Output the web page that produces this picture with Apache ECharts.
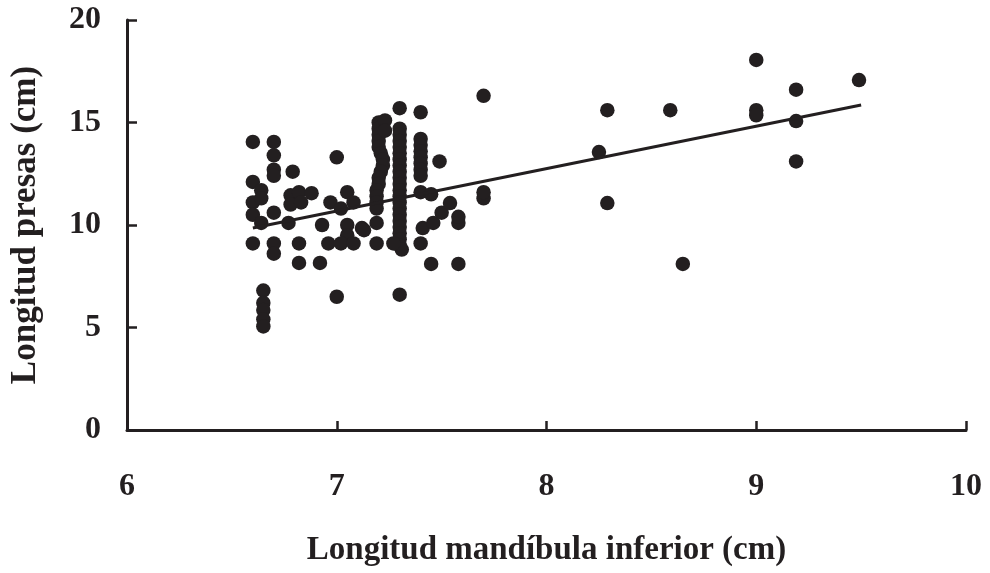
<!DOCTYPE html>
<html>
<head>
<meta charset="utf-8">
<script src="https://cdn.jsdelivr.net/npm/echarts@6/dist/echarts.min.js"></script>
<style>
  html, body { margin: 0; padding: 0; background: #fff; }
  #chart { width: 990px; height: 573px; }
</style>
</head>
<body>
<div id="chart"></div>
<script>
// puntos: longitud mandíbula inferior (cm) vs longitud presas (cm)
const pointsX = [
  6.6, 6.6, 6.6, 6.6, 6.6,
  6.64, 6.64, 6.64, 6.65, 6.65, 6.65, 6.65, 6.65,
  6.7, 6.7, 6.7, 6.7, 6.7, 6.7, 6.7,
  6.79, 6.78, 6.82, 6.88, 6.78, 6.83, 6.77, 6.82, 6.82, 6.92, 6.93,
  7.0, 7.0, 6.97, 7.05, 7.02, 7.08, 7.05, 7.12, 7.05, 6.96, 7.02, 7.08,
  7.2, 7.2, 7.2, 7.2, 7.2, 7.21, 7.22, 7.22, 7.21, 7.2, 7.2, 7.19, 7.19, 7.19, 7.19, 7.23, 7.23, 7.19, 7.19, 7.13,
  7.3, 7.3, 7.3, 7.3, 7.3, 7.3, 7.3, 7.3, 7.3, 7.3, 7.3, 7.3, 7.3, 7.3, 7.3, 7.3, 7.3, 7.3, 7.3, 7.3, 7.3, 7.31, 7.27, 7.3,
  7.4, 7.4, 7.4, 7.4, 7.4, 7.4, 7.4, 7.4, 7.4, 7.45, 7.41, 7.4, 7.46, 7.45, 7.49, 7.5, 7.54, 7.58, 7.58, 7.58,
  7.7, 7.7, 7.7,
  8.25, 8.29, 8.29, 8.59, 8.65, 9.0, 9.0, 9.0, 9.19, 9.19, 9.19, 9.49
];
const pointsY = [
  14.05, 12.1, 11.1, 10.5, 9.1,
  11.7, 11.3, 10.1, 6.8, 6.2, 5.85, 5.4, 5.05,
  14.05, 13.4, 12.7, 12.4, 10.6, 9.1, 8.6,
  12.6, 11.45, 11.6, 11.55, 11.0, 11.1, 10.1, 9.1, 8.15, 8.15, 10.0,
  13.3, 6.5, 11.1, 11.6, 10.8, 11.1, 10.0, 9.85, 9.5, 9.1, 9.1, 9.1,
  15.0, 14.7, 14.4, 14.1, 13.8, 13.5, 13.2, 12.9, 12.6, 12.3, 12.0, 11.7, 11.4, 11.1, 10.8, 15.1, 14.6, 10.1, 9.1, 9.75,
  14.7, 14.4, 14.1, 13.8, 13.5, 13.2, 12.9, 12.6, 12.3, 12.0, 11.7, 11.4, 11.1, 10.8, 10.5, 10.2, 9.9, 9.6, 9.3, 9.0, 15.7, 8.8, 9.1, 6.6,
  15.5, 14.2, 13.9, 13.6, 13.3, 13.0, 12.7, 12.4, 11.6, 11.5, 9.85, 9.1, 10.1, 8.1, 13.1, 10.6, 11.07, 10.1, 10.4, 8.1,
  16.3, 11.3, 11.6,
  13.56, 15.6, 11.07, 15.6, 8.1, 18.05, 15.6, 15.35, 16.6, 15.07, 13.1, 17.07
];
// recta de regresión (extremos)
const trendX = [6.6, 9.5];
const trendY = [9.85, 15.85];

const xTicks = [6, 7, 8, 9, 10];
const yTicks = [0, 5, 10, 15, 20];

const ink = '#231f20';
const font = '"Liberation Serif", "Times New Roman", serif';

const scatterData = pointsX.map((x, i) => [x, pointsY[i]]);
const trendData = trendX.map((x, i) => [x, trendY[i]]);

const myChart = echarts.init(document.getElementById('chart'), null, { renderer: 'canvas' });
const option = {
  backgroundColor: '#fff',
  animation: false,
  grid: { left: 126, right: 24, top: 20, bottom: 143 },
  xAxis: {
    type: 'value',
    min: xTicks[0],
    max: xTicks[xTicks.length - 1],
    interval: 1,
    name: 'Longitud mandíbula inferior (cm)',
    nameLocation: 'middle',
    nameGap: 104,
    nameTextStyle: { fontFamily: font, fontWeight: 'bold', fontSize: 33, color: ink },
    axisLine: { show: true, onZero: false, lineStyle: { color: ink, width: 3 } },
    axisTick: { show: true, inside: true, length: 9, lineStyle: { color: ink, width: 2.5 } },
    axisLabel: { margin: 41, fontFamily: font, fontWeight: 'bold', fontSize: 32, color: ink },
    splitLine: { show: false }
  },
  yAxis: {
    type: 'value',
    min: yTicks[0],
    max: yTicks[yTicks.length - 1],
    interval: 5,
    name: 'Longitud presas (cm)',
    nameLocation: 'middle',
    nameGap: 84,
    nameTextStyle: { fontFamily: font, fontWeight: 'bold', fontSize: 35, color: ink },
    axisLine: { show: true, lineStyle: { color: ink, width: 3 } },
    axisTick: { show: true, inside: true, length: 10, lineStyle: { color: ink, width: 2.5 } },
    axisLabel: { margin: 26, fontFamily: font, fontWeight: 'bold', fontSize: 32, color: ink },
    splitLine: { show: false }
  },
  series: [
    {
      type: 'scatter',
      data: scatterData,
      symbol: 'circle',
      symbolSize: 14.5,
      itemStyle: { color: ink, opacity: 1 }
    },
    {
      type: 'line',
      data: trendData,
      showSymbol: false,
      symbol: 'none',
      lineStyle: { color: ink, width: 3 },
      z: 3
    }
  ]
};
myChart.setOption(option);
</script>
</body>
</html>
